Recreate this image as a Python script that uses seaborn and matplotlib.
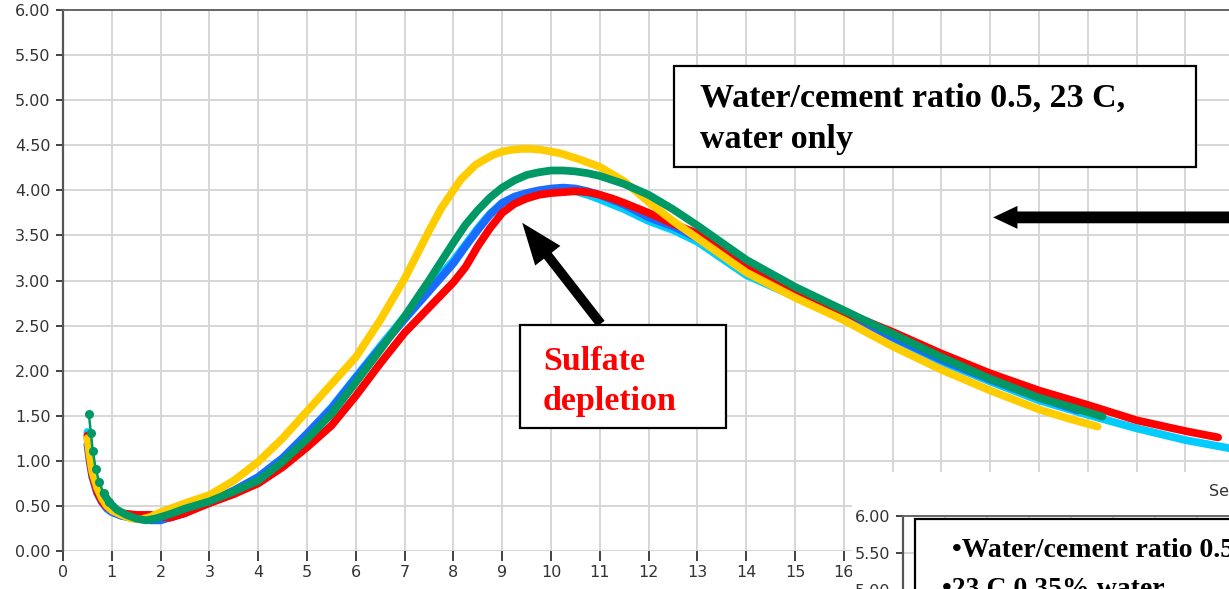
import matplotlib
matplotlib.use("Agg")
import matplotlib.pyplot as plt
from matplotlib.patches import Rectangle
from matplotlib.ticker import MultipleLocator, FormatStrFormatter
import pandas as pd
import seaborn as sns

# ---------------- data ----------------
yellow_x = [0.50, 0.55, 0.60, 0.70, 0.80, 0.90, 1.00, 1.20, 1.40, 1.60, 1.80, 2.00, 2.50, 3.00, 3.50,
            4.00, 4.50, 5.00, 5.50, 6.00, 6.50, 7.00, 7.50, 7.75, 8.00, 8.15, 8.30, 8.45, 8.60, 8.80,
            9.00, 9.20, 9.40, 9.60, 9.80, 10.20, 10.60, 11.00, 11.50, 12.00, 12.50, 13.00, 14.00,
            15.00, 16.00, 17.00, 18.00, 19.00, 20.00, 20.60, 21.20]
yellow_y = [1.25, 1.05, 0.88, 0.70, 0.58, 0.50, 0.45, 0.40, 0.36, 0.35, 0.38, 0.43, 0.53, 0.62, 0.78,
            0.99, 1.25, 1.55, 1.85, 2.15, 2.56, 3.02, 3.55, 3.80, 4.00, 4.12, 4.20, 4.28, 4.33, 4.39,
            4.43, 4.45, 4.46, 4.46, 4.45, 4.41, 4.34, 4.26, 4.10, 3.87, 3.66, 3.47, 3.09,
            2.81, 2.56, 2.27, 2.01, 1.78, 1.57, 1.47, 1.38]

green_x = [0.53, 0.57, 0.61, 0.67, 0.74, 0.83, 0.95, 1.10, 1.30, 1.50, 1.70, 1.90, 2.20, 2.50, 3.00,
           3.50, 4.00, 4.50, 5.00, 5.50, 6.00, 6.50, 7.00, 7.50, 8.00, 8.25, 8.50, 8.75, 9.00, 9.25,
           9.50, 9.75, 10.00, 10.25, 10.50, 10.75, 11.00, 11.50, 12.00, 12.50, 13.00, 14.00, 15.00,
           16.00, 17.00, 18.00, 19.00, 20.00, 20.70, 21.30]
green_y = [1.52, 1.31, 1.11, 0.91, 0.77, 0.64, 0.54, 0.46, 0.40, 0.36, 0.34, 0.36, 0.41, 0.47, 0.55,
           0.66, 0.78, 0.99, 1.24, 1.52, 1.87, 2.23, 2.60, 3.00, 3.42, 3.62, 3.78, 3.92, 4.03, 4.11,
           4.17, 4.20, 4.22, 4.22, 4.21, 4.19, 4.16, 4.07, 3.95, 3.79, 3.61, 3.23, 2.93,
           2.67, 2.41, 2.15, 1.91, 1.70, 1.59, 1.49]

blue_x = [0.50, 0.55, 0.60, 0.70, 0.80, 0.90, 1.00, 1.20, 1.50, 1.80, 2.00, 2.50, 3.00, 3.50, 4.00,
          4.50, 5.00, 5.50, 6.00, 6.50, 7.00, 7.50, 8.00, 8.25, 8.50, 8.75, 9.00, 9.25, 9.50, 9.75,
          10.00, 10.25, 10.50, 10.75, 11.00, 11.50, 12.00, 12.50, 13.00, 14.00, 15.00, 16.00, 17.00,
          18.00, 19.00, 20.00, 20.80]
blue_y = [1.18, 0.98, 0.82, 0.64, 0.54, 0.47, 0.43, 0.39, 0.36, 0.34, 0.34, 0.42, 0.55, 0.67, 0.82,
          1.03, 1.30, 1.58, 1.92, 2.25, 2.57, 2.88, 3.19, 3.38, 3.56, 3.73, 3.86, 3.93, 3.97, 4.00,
          4.02, 4.03, 4.02, 3.99, 3.95, 3.84, 3.70, 3.60, 3.47, 3.10, 2.85, 2.61, 2.37,
          2.12, 1.90, 1.70, 1.56]

cyan_x = [0.50, 0.55, 0.60, 0.70, 0.80, 0.90, 1.00, 1.20, 1.50, 1.80, 2.00, 2.50, 3.00, 3.50, 4.00,
          4.50, 5.00, 5.50, 6.00, 6.50, 7.00, 7.50, 8.00, 8.25, 8.50, 8.75, 9.00, 9.25, 9.50, 9.75,
          10.00, 10.25, 10.50, 10.75, 11.00, 11.50, 12.00, 12.50, 13.00, 14.00, 15.00, 16.00, 17.00,
          18.00, 19.00, 20.00, 21.00, 22.00, 23.00, 24.00]
cyan_y = [1.32, 1.05, 0.86, 0.66, 0.55, 0.48, 0.44, 0.39, 0.36, 0.35, 0.35, 0.42, 0.55, 0.67, 0.82,
          1.03, 1.30, 1.59, 1.93, 2.27, 2.60, 2.92, 3.22, 3.40, 3.58, 3.74, 3.86, 3.92, 3.95, 3.98,
          4.00, 4.00, 3.99, 3.95, 3.90, 3.79, 3.66, 3.56, 3.43, 3.06, 2.82, 2.60, 2.36,
          2.10, 1.88, 1.67, 1.51, 1.36, 1.23, 1.13]

red_x = [0.50, 0.55, 0.60, 0.70, 0.80, 0.90, 1.00, 1.20, 1.50, 1.80, 2.00, 2.20, 2.50, 3.00, 3.50,
         4.00, 4.50, 5.00, 5.50, 6.00, 6.50, 7.00, 7.50, 8.00, 8.25, 8.50, 8.75, 9.00, 9.25, 9.50,
         9.75, 10.00, 10.25, 10.50, 10.75, 11.00, 11.25, 11.50, 12.00, 12.50, 13.00, 14.00, 15.00,
         16.00, 17.00, 18.00, 19.00, 20.00, 21.00, 22.00, 23.00, 23.67]
red_y = [1.28, 1.02, 0.85, 0.66, 0.55, 0.49, 0.46, 0.42, 0.40, 0.40, 0.38, 0.37, 0.42, 0.53, 0.63,
         0.75, 0.93, 1.15, 1.39, 1.72, 2.08, 2.42, 2.70, 2.98, 3.15, 3.38, 3.58, 3.75, 3.85, 3.91,
         3.95, 3.97, 3.98, 3.99, 3.98, 3.95, 3.91, 3.86, 3.75, 3.63, 3.52, 3.15, 2.88,
         2.65, 2.43, 2.19, 1.97, 1.78, 1.62, 1.45, 1.33, 1.26]

y_ticks = [0.0, 0.5, 1.0, 1.5, 2.0, 2.5, 3.0, 3.5, 4.0, 4.5, 5.0, 5.5, 6.0]
inset_y_ticks = [5.0, 5.5, 6.0]
x_ticks = list(range(0, 24))
x_tick_labels = [str(v) if v <= 16 else "" for v in x_ticks]

main_note = ["Water/cement ratio 0.5, 23 C,", "water only"]
sulfate_note = ["Sulfate", "depletion"]
inset_note = ["\u2022Water/cement ratio 0.5", "\u202223 C,0.35% water"]

series = [
    ("cyan", cyan_x, cyan_y, "#00CCFF"),
    ("blue", blue_x, blue_y, "#1A6BFF"),
    ("red", red_x, red_y, "#FF0000"),
    ("yellow", yellow_x, yellow_y, "#FFCC00"),
    ("green", green_x, green_y, "#009966"),
]

# ---------------- style ----------------
sns.set_theme(style="white")
plt.rcParams["font.family"] = ["DejaVu Sans"]

W, H = 1229, 589
fig = plt.figure(figsize=(W / 100, H / 100), dpi=100)
fig.patch.set_facecolor("white")


def fx(px):
    return px / W


def fy(py):
    return (H - py) / H


PX_PER_X = 48.8
ax = fig.add_axes([fx(63), fy(551), fx(W) - fx(63), fy(10) - fy(551)])
ax.set_xlim(0, (W - 63) / PX_PER_X)
ax.set_ylim(0, 6)
ax.set_xticks(x_ticks)
ax.set_xticklabels(x_tick_labels)
ax.set_yticks(y_ticks)
ax.yaxis.set_major_formatter(FormatStrFormatter("%.2f"))
ax.grid(True, color="#d6d6d6", linewidth=1.4)
ax.set_axisbelow(True)
for s in ["right", "bottom"]:
    ax.spines[s].set_visible(False)
ax.spines["left"].set_color("#555555")
ax.spines["left"].set_linewidth(1.6)
ax.spines["top"].set_color("#666666")
ax.spines["top"].set_linewidth(1.4)
ax.tick_params(axis="y", length=5, width=1.3, color="#333333", pad=4,
               labelsize=11.5, labelcolor="#333333", left=True)
ax.tick_params(axis="x", length=7, width=1.3, color="#333333", pad=3,
               labelsize=11.5, labelcolor="#333333", bottom=True)

for name, xs, ys, col in series:
    df = pd.DataFrame({"x": xs, "y": ys})
    if name == "green":
        head = df.iloc[:7]
        sns.lineplot(data=head, x="x", y="y", ax=ax, color=col, linewidth=1.8,
                     marker="o", markersize=6.5, markeredgewidth=0, sort=False,
                     estimator=None, legend=False, zorder=3)
        df = df.iloc[5:]
    sns.lineplot(data=df, x="x", y="y", ax=ax, color=col, linewidth=5.6,
                 sort=False, estimator=None, legend=False, zorder=3,
                 solid_capstyle="round", solid_joinstyle="round")
ax.set_xlabel("")
ax.set_ylabel("")

# arrows
ax.annotate("", xy=(9.41, 3.64), xytext=(11.02, 2.52), annotation_clip=False,
            arrowprops=dict(arrowstyle="simple,head_width=2.3,head_length=3.0,tail_width=0.7",
                            mutation_scale=10, fc="black", ec="black", lw=0,
                            shrinkA=0, shrinkB=0), zorder=4)
ax.annotate("", xy=(19.06, 3.70), xytext=(25.0, 3.70), annotation_clip=False,
            arrowprops=dict(arrowstyle="simple,head_width=1.65,head_length=1.75,tail_width=0.85",
                            mutation_scale=10, fc="black", ec="black", lw=0,
                            shrinkA=0, shrinkB=0), zorder=4)

# note boxes
serif = ["Liberation Serif", "DejaVu Serif"]
fig.add_artist(Rectangle((fx(674), fy(167)), fx(1196) - fx(674), fy(66) - fy(167),
                         transform=fig.transFigure, facecolor="white", edgecolor="black",
                         linewidth=1.6, zorder=1))
fig.text(fx(700), fy(107), main_note[0], family=serif, weight="bold", size=24.5,
         va="baseline", ha="left", color="black", zorder=1.5)
fig.text(fx(700), fy(148), main_note[1], family=serif, weight="bold", size=24.5,
         va="baseline", ha="left", color="black", zorder=1.5)

fig.add_artist(Rectangle((fx(520), fy(428)), fx(726) - fx(520), fy(325) - fy(428),
                         transform=fig.transFigure, facecolor="white", edgecolor="black",
                         linewidth=1.6, zorder=1))
fig.text(fx(543), fy(370), sulfate_note[0], family=serif, weight="bold", size=24.5,
         va="baseline", ha="left", color="#FF0000", zorder=1.5)
fig.text(fx(543), fy(410), sulfate_note[1], family=serif, weight="bold", size=24.5,
         va="baseline", ha="left", color="#FF0000", zorder=1.5)

# overlapping second chart screenshot (bottom right)
fig.add_artist(Rectangle((fx(852), 0), 1 - fx(852), fy(472), transform=fig.transFigure,
                         facecolor="white", edgecolor="none", zorder=2))
fig.text(fx(1209), fy(492), "Series", size=11.5, color="#333333", va="center",
         ha="left", zorder=2.5)

inset_h = 6 * 74
ax2 = fig.add_axes([fx(903), fy(516) - inset_h / H, 0.32, inset_h / H])
ax2.set_zorder(5)
ax2.set_ylim(0, 6)
ax2.set_xlim(0, 0.32 * W / 42)
ax2.set_yticks(inset_y_ticks)
ax2.yaxis.set_major_formatter(FormatStrFormatter("%.2f"))
ax2.xaxis.set_major_locator(MultipleLocator(1))
ax2.set_xticklabels([])
ax2.grid(True, color="#d6d6d6", linewidth=1.4)
for s in ["right", "bottom"]:
    ax2.spines[s].set_visible(False)
ax2.spines["left"].set_color("#555555")
ax2.spines["left"].set_linewidth(1.6)
ax2.spines["top"].set_color("#666666")
ax2.spines["top"].set_linewidth(1.4)
ax2.tick_params(axis="y", length=5, width=1.3, color="#333333", pad=4,
                labelsize=11.5, labelcolor="#333333", left=True)
ax2.tick_params(axis="x", length=0)

fig.add_artist(Rectangle((fx(915), fy(700)), 0.4, fy(519) - fy(700), transform=fig.transFigure,
                         facecolor="white", edgecolor="black", linewidth=1.6, zorder=6))
fig.text(fx(952), fy(557), inset_note[0], family=serif, weight="bold", size=20,
         va="baseline", ha="left", color="black", zorder=7)
fig.text(fx(942), fy(596), inset_note[1], family=serif, weight="bold", size=20,
         va="baseline", ha="left", color="black", zorder=7)

fig.savefig("out.png", dpi=100, facecolor="white")
